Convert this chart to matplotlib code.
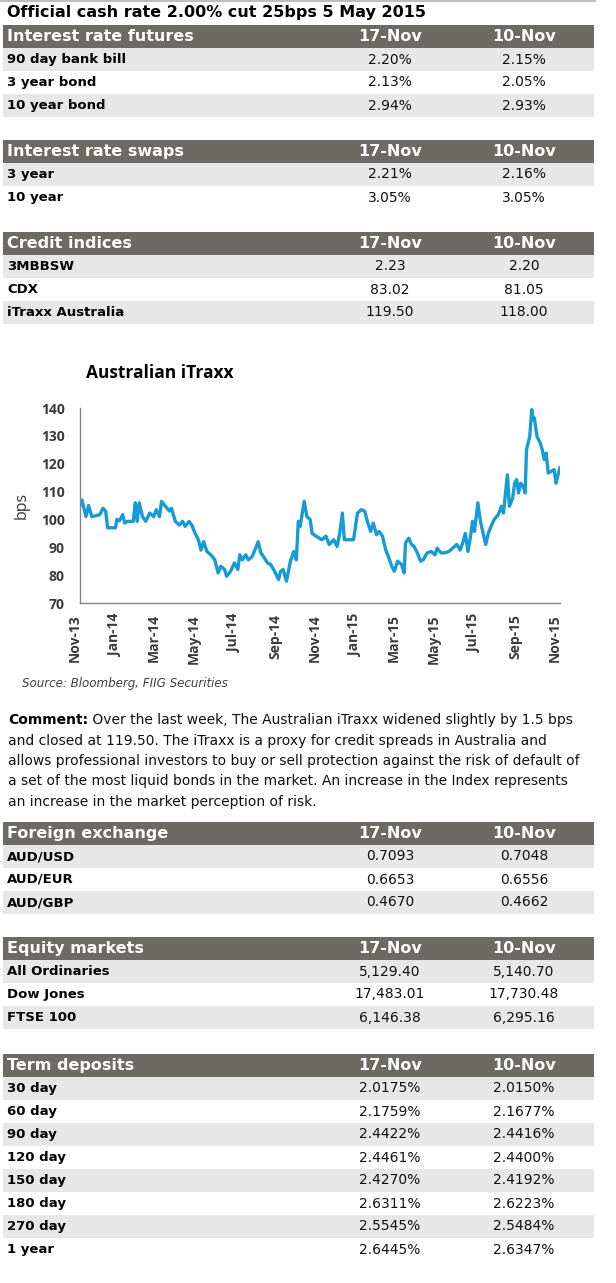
import matplotlib
matplotlib.use("Agg")
import matplotlib.pyplot as plt
import matplotlib.transforms as mtransforms
import pandas as pd
from matplotlib.patches import Rectangle

# ---- data ----
page_title = "Official cash rate 2.00% cut 25bps 5 May 2015"
col_dates = ["17-Nov", "10-Nov"]

futures_labels = ["90 day bank bill", "3 year bond", "10 year bond"]
futures_17 = ["2.20%", "2.13%", "2.94%"]
futures_10 = ["2.15%", "2.05%", "2.93%"]

swaps_labels = ["3 year", "10 year"]
swaps_17 = ["2.21%", "3.05%"]
swaps_10 = ["2.16%", "3.05%"]

credit_labels = ["3MBBSW", "CDX", "iTraxx Australia"]
credit_17 = ["2.23", "83.02", "119.50"]
credit_10 = ["2.20", "81.05", "118.00"]

fx_labels = ["AUD/USD", "AUD/EUR", "AUD/GBP"]
fx_17 = ["0.7093", "0.6653", "0.4670"]
fx_10 = ["0.7048", "0.6556", "0.4662"]

equity_labels = ["All Ordinaries", "Dow Jones", "FTSE 100"]
equity_17 = ["5,129.40", "17,483.01", "6,146.38"]
equity_10 = ["5,140.70", "17,730.48", "6,295.16"]

term_labels = ["30 day", "60 day", "90 day", "120 day", "150 day", "180 day", "270 day", "1 year"]
term_17 = ["2.0175%", "2.1759%", "2.4422%", "2.4461%", "2.4270%", "2.6311%", "2.5545%", "2.6445%"]
term_10 = ["2.0150%", "2.1677%", "2.4416%", "2.4400%", "2.4192%", "2.6223%", "2.5484%", "2.6347%"]

# Australian iTraxx, days after start date and level in bps
itraxx_start = "2013-11-18"
itraxx_day = [
    0, 3, 9, 13, 18, 30, 35, 39, 42, 54,
    56, 60, 65, 68, 72, 81, 84, 87, 90, 95,
    100, 106, 112, 116, 121, 124, 130, 136, 139, 145,
    151, 156, 160, 166, 170, 175, 180, 184, 188, 193,
    199, 205, 210, 214, 220, 223, 229, 235, 240, 243,
    247, 252, 256, 262, 267, 271, 275, 279, 285, 290,
    296, 302, 305, 309, 314, 320, 325, 329, 332, 335,
    338, 341, 345, 350, 353, 359, 368, 374, 379, 386,
    391, 395, 399, 402, 407, 416, 422, 428, 433, 437,
    442, 446, 451, 455, 460, 465, 469, 474, 478, 483,
    489, 493, 495, 500, 504, 508, 513, 518, 522, 528,
    534, 540, 543, 549, 555, 561, 567, 573, 578, 582,
    586, 590, 594, 597, 600, 605, 609, 614, 617, 621,
    626, 630, 636, 641, 644, 650, 653, 658, 661, 664,
    667, 670, 674, 677, 679, 684, 687, 689, 691, 695,
    700, 703, 706, 709, 712, 717, 721, 724, 727, 730,
]
itraxx_bps = [
    105, 107, 101, 105, 101, 101.7, 104, 103, 97, 97,
    100, 99.5, 101.7, 98.7, 99.3, 99.3, 106, 99.3, 106, 101,
    99.3, 102.3, 101, 103.5, 101, 106.5, 104.7, 103, 104, 99.3,
    98, 99.3, 97.5, 99.3, 98, 95, 92.7, 89, 92, 88.5,
    87.3, 85.5, 80.8, 83.2, 82, 79.6, 81.4, 84.4, 82, 87.3,
    85.5, 87.3, 85.5, 86.7, 89.7, 92, 88, 86.7, 84.4, 83.8,
    81.4, 78.4, 81.4, 82, 77.8, 85, 88.5, 85.5, 99.3, 97.5,
    102.3, 106.5, 101, 100, 95, 94, 92.7, 94, 91, 92.7,
    90.3, 95, 102.3, 92.7, 92.7, 92.7, 102.3, 103.5, 103, 99.3,
    95.7, 98.7, 94.5, 95.7, 94, 89, 86.7, 83.2, 81.4, 85,
    83.8, 80.8, 91.5, 93.3, 91, 90.3, 88, 85, 85.5, 88,
    88.5, 87.3, 89.7, 88, 88, 88.5, 89.7, 91, 89, 91.5,
    95, 88.5, 94, 99.3, 95.7, 106, 99.3, 94, 91, 95,
    98, 100, 101.7, 104.7, 102.3, 116, 104.7, 107.7, 113, 114.3,
    109.5, 113, 111.9, 109.5, 125, 129.8, 139.4, 135.8, 136.4, 129.8,
    127.4, 125, 121.5, 123.8, 116.7, 117.3, 117.9, 113, 116, 118.5,
]

comment_lines = [
    "Over the last week, The Australian iTraxx widened slightly by 1.5 bps",
    "and closed at 119.50. The iTraxx is a proxy for credit spreads in Australia and",
    "allows professional investors to buy or sell protection against the risk of default of",
    "a set of the most liquid bonds in the market. An increase in the Index represents",
    "an increase in the market perception of risk.",
]

# ---- layout (pixels) ----
W, H = 616, 1283
LEFT, RIGHT = 3, 594
ROW = 23
COLS = [390, 524]
HEAD_C = "#6D6A66"
BAND_C = "#E7E7E7"
LINE_C = "#179BD7"
FONT = "DejaVu Sans"
CHART_FONT = "Open Sans"

fig = plt.figure(figsize=(W / 100, H / 100), dpi=100)
page = fig.add_axes([0, 0, 1, 1])
page.set_xlim(0, W)
page.set_ylim(H, 0)
page.axis("off")


def draw_table(top, header, labels, v17, v10):
    page.add_patch(Rectangle((LEFT, top), RIGHT - LEFT, ROW, color=HEAD_C, lw=0))
    yc = top + ROW / 2
    page.text(7, yc, header, color="white", fontsize=11.5, fontweight="bold",
              family=FONT, va="center", ha="left")
    for cx, d in zip(COLS, col_dates):
        page.text(cx, yc, d, color="white", fontsize=11.5, fontweight="bold",
                  family=FONT, va="center", ha="center")
    for i, (lab, a, b) in enumerate(zip(labels, v17, v10)):
        rt = top + ROW * (i + 1)
        if i % 2 == 0:
            page.add_patch(Rectangle((LEFT, rt), RIGHT - LEFT, ROW, color=BAND_C, lw=0))
        yc = rt + ROW / 2
        page.text(7, yc, lab, fontsize=9.5, fontweight="bold", family=FONT,
                  va="center", ha="left", color="black")
        for cx, v in zip(COLS, [a, b]):
            page.text(cx, yc, v, fontsize=10, family=FONT, va="center",
                      ha="center", color="#111111")


page.plot([0, 595], [1, 1], color="#BDBDBD", lw=1.5)
page.text(7, 13, page_title, fontsize=11.5, fontweight="bold", family=FONT,
          va="center", ha="left")

draw_table(25, "Interest rate futures", futures_labels, futures_17, futures_10)
draw_table(140, "Interest rate swaps", swaps_labels, swaps_17, swaps_10)
draw_table(232, "Credit indices", credit_labels, credit_17, credit_10)
draw_table(822, "Foreign exchange", fx_labels, fx_17, fx_10)
draw_table(937, "Equity markets", equity_labels, equity_17, equity_10)
draw_table(1054, "Term deposits", term_labels, term_17, term_10)

# ---- iTraxx chart ----
ax = fig.add_axes([80 / W, 1 - 603 / H, (560 - 80) / W, (603 - 408) / H])
dates = pd.to_datetime(itraxx_start) + pd.to_timedelta(itraxx_day, unit="D")
ax.plot(dates, itraxx_bps, color=LINE_C, lw=2.4, solid_joinstyle="round")
ax.set_ylim(70, 140)
ax.set_yticks(range(70, 141, 10))
ticks = pd.date_range(itraxx_start, periods=13, freq=pd.DateOffset(months=2))
ax.set_xlim(ticks[0], ticks[-1])
ax.set_xticks(ticks)
ax.set_xticklabels([t.strftime("%b-%y") for t in ticks], rotation=90)
for s in ["top", "right"]:
    ax.spines[s].set_visible(False)
for s in ["left", "bottom"]:
    ax.spines[s].set_color("#868686")
    ax.spines[s].set_linewidth(1)
ax.tick_params(axis="x", length=0, pad=8)
ax.tick_params(axis="y", length=0, pad=11)
for lab in ax.get_xticklabels() + ax.get_yticklabels():
    lab.set_fontfamily(CHART_FONT)
    lab.set_fontweight("bold")
    lab.set_fontsize(10)
    lab.set_color("#3A3A3A")
shift = mtransforms.ScaledTranslation(-5 / 100, 0, fig.dpi_scale_trans)
for lab in ax.get_xticklabels():
    lab.set_transform(lab.get_transform() + shift)

page.text(86, 373, "Australian iTraxx", fontsize=12.5, fontweight="bold",
          family=CHART_FONT, va="center", ha="left")
page.text(22, 505, "bps", fontsize=11.5, family=CHART_FONT, rotation=90,
          va="center", ha="center", color="#333333")
page.text(22, 683, "Source: Bloomberg, FIIG Securities", fontsize=8.6,
          style="italic", family=FONT, va="center", ha="left", color="#404040")

# ---- comment ----
fig.canvas.draw()
renderer = fig.canvas.get_renderer()
y0, dy = 720, 20.5
bold = page.text(8, y0, "Comment:", fontsize=10, fontweight="bold", family=FONT,
                 va="center", ha="left")
bb = bold.get_window_extent(renderer)
x_end = page.transData.inverted().transform((bb.x1, bb.y0))[0]
for i, line in enumerate(comment_lines):
    x = x_end if i == 0 else 8
    txt = " " + line if i == 0 else line
    page.text(x, y0 + i * dy, txt, fontsize=10, family=FONT, va="center",
              ha="left", color="#111111")

fig.savefig("out.png", dpi=100, facecolor="white")
